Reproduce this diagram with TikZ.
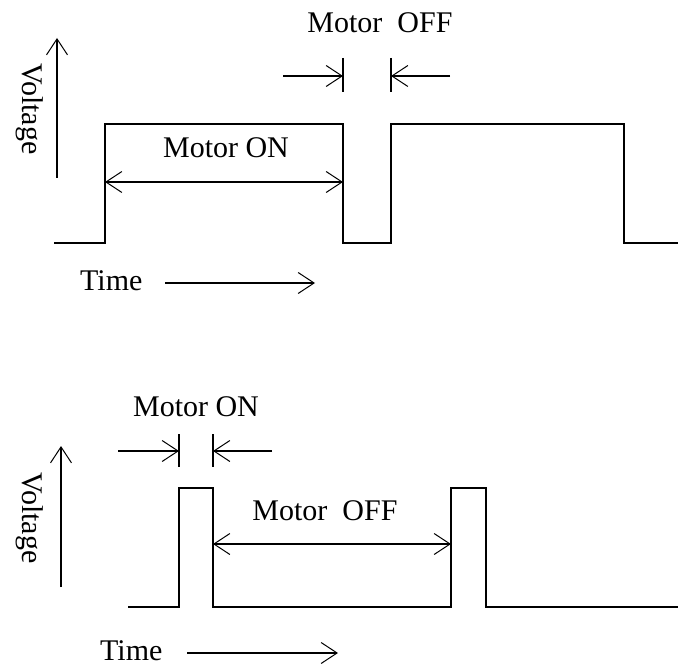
\documentclass[tikz,border=0pt]{standalone}
\usepackage{fontspec}
\setmainfont{Liberation Serif}
\usetikzlibrary{arrows.meta}
\tikzset{
	wave/.style={line width=1.6pt, line join=miter, draw=black},
	tick/.style={line width=1.5pt, draw=black},
	arrow/.style={-{Straight Barb[length=16pt, width=21pt, line width=1pt]}, line width=1.3pt, draw=black},
	twoarrow/.style={{Straight Barb[length=16pt, width=21pt, line width=1pt]}-{Straight Barb[length=16pt, width=21pt, line width=1pt]}, line width=1.3pt, draw=black},
	lbl/.style={inner sep=0pt, font=\fontsize{30}{36}\selectfont},
	vlbl/.style={lbl, rotate=-90, anchor=base west},
}

\begin{document}
\begin{tikzpicture}[x=1pt, y=-1pt]
		\useasboundingbox (0,0) rectangle (678,666);
		% top: long on-time
		\draw[wave] (54,243) -- (105,243) -- (105,124) -- (343,124) -- (343,243) -- (391,243) -- (391,124) -- (624,124) -- (624,243) -- (678,243);
		\coordinate (vlow) at (57,178);
		\coordinate (vhigh) at (57,38);
		\node[vlbl] (volt) at (22,63) {Voltage};
		\node[lbl, anchor=base west] (time) at (80,290) {Time};
		\coordinate (tstart) at (165,283);
		\coordinate (tend) at (315,283);
		\coordinate (onleft) at (105,182);
		\coordinate (onright) at (343,182);
		\node[lbl, anchor=base] (onlbl) at (226,158) {Motor ON};
		\coordinate (offa) at (343,58);
		\coordinate (offb) at (343,92);
		\coordinate (offc) at (391,58);
		\coordinate (offd) at (391,92);
		\coordinate (offin) at (283,76);
		\coordinate (offtip) at (343,76);
		\coordinate (offin2) at (450,76);
		\coordinate (offtip2) at (391,76);
		\node[lbl, anchor=base] (offlbl) at (380,33) {Motor~~OFF};
		\draw[arrow] (vlow) -- (vhigh);
		\draw[arrow] (tstart) -- (tend);
		\draw[twoarrow] (onleft) -- (onright);
		\draw[tick] (offa) -- (offb);
		\draw[tick] (offc) -- (offd);
		\draw[arrow] (offin) -- (offtip);
		\draw[arrow] (offin2) -- (offtip2);
		% bottom: short on-time
		\draw[wave] (128,607) -- (179,607) -- (179,488) -- (213,488) -- (213,607) -- (451,607) -- (451,488) -- (486,488) -- (486,607) -- (678,607);
		\coordinate (vlowb) at (61,587);
		\coordinate (vhighb) at (61,446);
		\node[vlbl] (voltb) at (23,472) {Voltage};
		\node[lbl, anchor=base west] (timeb) at (100,660) {Time};
		\coordinate (tstartb) at (187,653);
		\coordinate (tendb) at (338,653);
		\coordinate (offleft) at (213,544);
		\coordinate (offright) at (451,544);
		\node[lbl, anchor=base] (offlblb) at (325,520) {Motor~~OFF};
		\coordinate (ona) at (179,434);
		\coordinate (onb) at (179,467);
		\coordinate (onc) at (213,434);
		\coordinate (ond) at (213,467);
		\coordinate (onin) at (118,451);
		\coordinate (ontip) at (179,451);
		\coordinate (onin2) at (272,451);
		\coordinate (ontip2) at (213,451);
		\node[lbl, anchor=base] (onlblb) at (196,416) {Motor ON};
		\draw[arrow] (vlowb) -- (vhighb);
		\draw[arrow] (tstartb) -- (tendb);
		\draw[twoarrow] (offleft) -- (offright);
		\draw[tick] (ona) -- (onb);
		\draw[tick] (onc) -- (ond);
		\draw[arrow] (onin) -- (ontip);
		\draw[arrow] (onin2) -- (ontip2);
	\end{tikzpicture}
\end{document}
